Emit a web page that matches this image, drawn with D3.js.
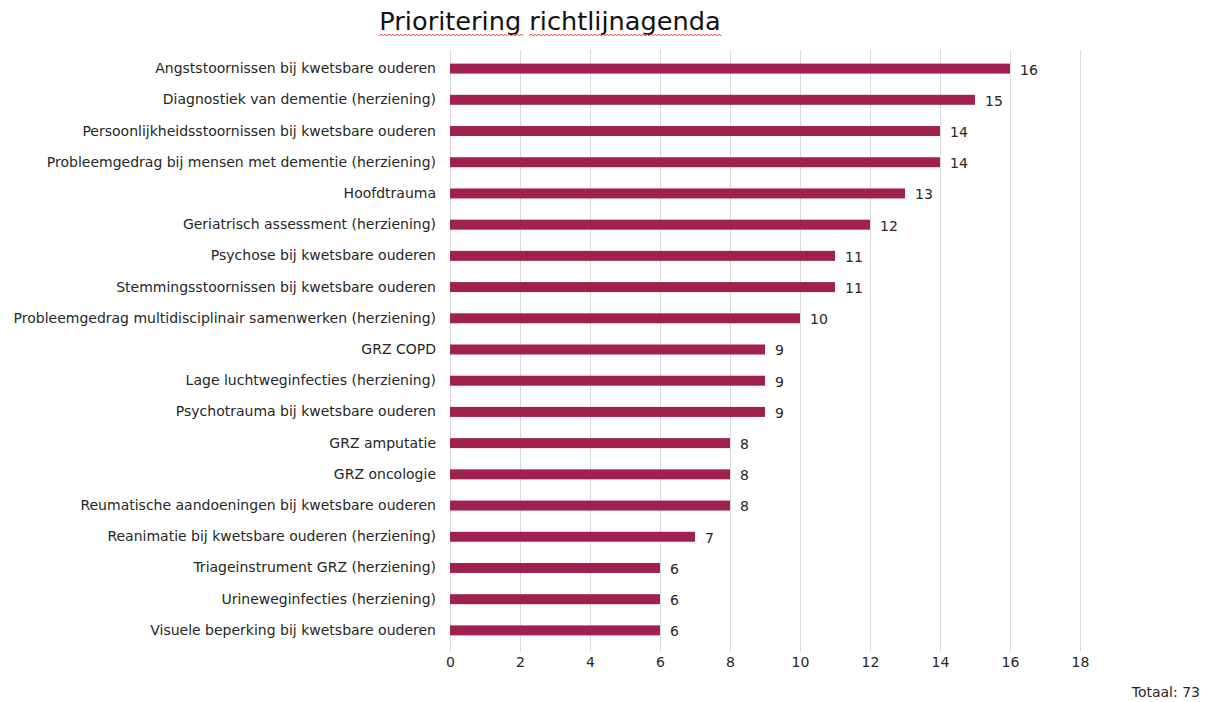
<!DOCTYPE html>
<html>
<head>
<meta charset="utf-8">
<script src="https://cdn.jsdelivr.net/npm/d3@7"></script>
<style>
  body { margin: 0; background: #fff; }
  text { font-family: "DejaVu Sans", Verdana, sans-serif; fill: #262626; }
</style>
</head>
<body>
<div id="chart"></div>
<script>
const categories = [
  'Angststoornissen bij kwetsbare ouderen',
  'Diagnostiek van dementie (herziening)',
  'Persoonlijkheidsstoornissen bij kwetsbare ouderen',
  'Probleemgedrag bij mensen met dementie (herziening)',
  'Hoofdtrauma',
  'Geriatrisch assessment (herziening)',
  'Psychose bij kwetsbare ouderen',
  'Stemmingsstoornissen bij kwetsbare ouderen',
  'Probleemgedrag multidisciplinair samenwerken (herziening)',
  'GRZ COPD',
  'Lage luchtweginfecties (herziening)',
  'Psychotrauma bij kwetsbare ouderen',
  'GRZ amputatie',
  'GRZ oncologie',
  'Reumatische aandoeningen bij kwetsbare ouderen',
  'Reanimatie bij kwetsbare ouderen (herziening)',
  'Triageinstrument GRZ (herziening)',
  'Urineweginfecties (herziening)',
  'Visuele beperking bij kwetsbare ouderen'
];
const values = [16, 15, 14, 14, 13, 12, 11, 11, 10, 9, 9, 9, 8, 8, 8, 7, 6, 6, 6];
const xTicks = [0, 2, 4, 6, 8, 10, 12, 14, 16, 18];
const title = 'Prioritering richtlijnagenda';
const totalLabel = 'Totaal: 73';

const width = 1206, height = 702;
const barColor = '#A0214F';
const fontSize = '14px';
const titleSize = '25.6px';

const svg = d3.select('#chart').append('svg')
  .attr('width', width)
  .attr('height', height);

const x = d3.scaleLinear().domain([0, 18]).range([450, 1080]);
const y = d3.scaleBand().domain(categories).range([53, 646]).paddingInner(0.68).paddingOuter(0.34);

// gridlines
svg.append('g')
  .selectAll('line')
  .data(xTicks)
  .join('line')
    .attr('x1', d => x(d) + 0.5)
    .attr('x2', d => x(d) + 0.5)
    .attr('y1', 50)
    .attr('y2', 651)
    .attr('stroke', '#d9d9d9')
    .attr('stroke-width', 1);

// x axis labels
svg.append('g')
  .attr('transform', 'translate(0,651)')
  .call(d3.axisBottom(x).tickValues(xTicks).tickSize(0).tickPadding(6))
  .call(g => g.select('.domain').remove())
  .selectAll('text')
    .style('font-family', '"DejaVu Sans", Verdana, sans-serif')
    .style('font-size', fontSize)
    .attr('fill', '#262626');

// y axis labels
svg.append('g')
  .attr('transform', 'translate(450,0)')
  .call(d3.axisLeft(y).tickSize(0).tickPadding(14))
  .call(g => g.select('.domain').remove())
  .selectAll('text')
    .style('font-family', '"DejaVu Sans", Verdana, sans-serif')
    .style('font-size', fontSize)
    .attr('fill', '#262626');

// bars
svg.append('g')
  .selectAll('rect')
  .data(categories)
  .join('rect')
    .attr('x', x(0))
    .attr('y', d => y(d))
    .attr('width', (d, i) => x(values[i]) - x(0))
    .attr('height', y.bandwidth())
    .attr('fill', barColor);

// value labels
svg.append('g')
  .selectAll('text')
  .data(categories)
  .join('text')
    .attr('x', (d, i) => x(values[i]) + 10)
    .attr('y', d => y(d) + y.bandwidth() / 2 + 1)
    .attr('dy', '0.35em')
    .style('font-size', fontSize)
    .text((d, i) => values[i]);

// title
const t = svg.append('text')
  .attr('x', 550)
  .attr('y', 30)
  .attr('text-anchor', 'middle')
  .style('font-size', titleSize)
  .style('fill', '#111')
  .text(title);

// spellcheck squiggle under the title words
const measure = s => {
  const tmp = svg.append('text').style('font-size', titleSize).text(s);
  const w = tmp.node().getComputedTextLength();
  tmp.remove();
  return w;
};
const tb = t.node().getBBox();
const spaceW = measure('a a') - measure('aa');
let cx = tb.x;
title.split(' ').forEach(w => {
  const ww = measure(w);
  let p = `M${cx},36`;
  for (let s = cx; s < cx + ww; s += 4) {
    p += ` L${s + 2},34 L${s + 4},36`;
  }
  svg.append('path').attr('d', p).attr('fill', 'none').attr('stroke', '#e23b3b').attr('stroke-width', 1);
  cx += ww + spaceW;
});

// total
svg.append('text')
  .attr('x', 1200)
  .attr('y', 697)
  .attr('text-anchor', 'end')
  .style('font-size', fontSize)
  .text(totalLabel);
</script>
</body>
</html>
